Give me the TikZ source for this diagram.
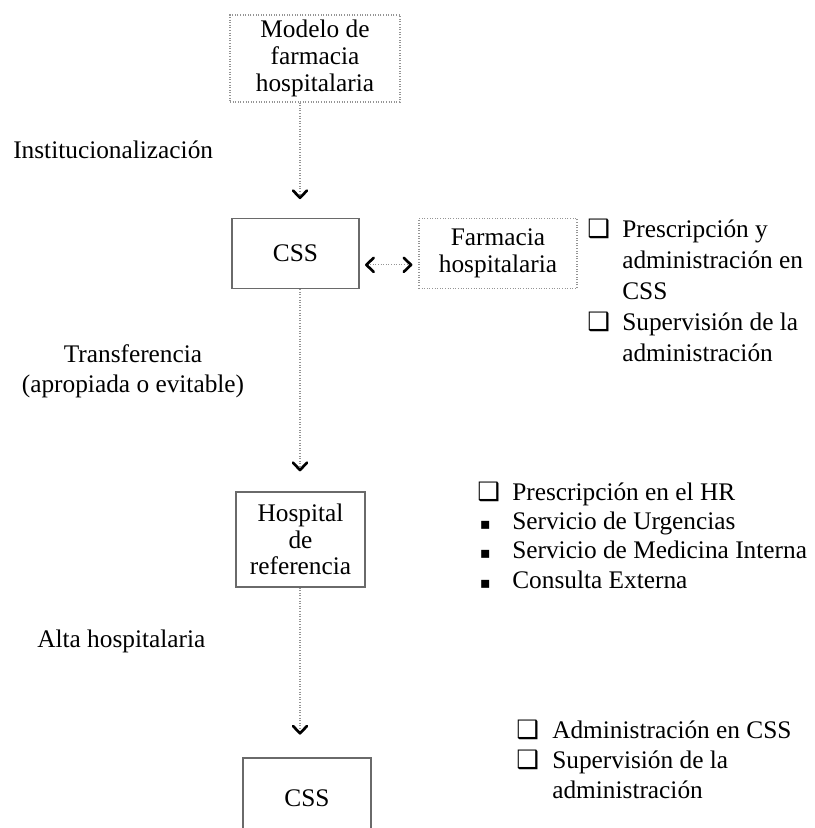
\documentclass[tikz,border=0pt]{standalone}
\usepackage{fontspec}
\setmainfont{Liberation Serif}
\newfontfamily\symfont{DejaVu Sans}
\usetikzlibrary{arrows.meta}

\definecolor{boxline}{HTML}{6A6A6A}
\definecolor{dotline}{HTML}{959595}

% list markers: shadowed check box and small filled square
\newcommand\chkmark[1]{\makebox[#1][l]{\symfont\fontsize{19}{19}\selectfont ❑}}
\newcommand\sqmark[1]{\makebox[#1][l]{\hspace{2pt}\symfont\fontsize{12}{12}\selectfont ▪}}

\begin{document}
\begin{tikzpicture}[x=0.75pt,y=-0.75pt,
  every node/.style={font=\fontsize{19}{20}\selectfont, inner sep=0pt},
  solidbox/.style={draw=boxline, line width=1pt, align=center},
  dotbox/.style={draw=dotline, line width=0.9pt, dash pattern=on 0.75pt off 1.2pt, align=center},
  barb/.tip={Straight Barb[length=5.5pt,width=10.5pt,line width=2pt,round,color=black]},
  flow/.style={draw=dotline, line width=0.9pt, dash pattern=on 0.75pt off 1.2pt, -barb},
  pair/.style={flow, barb-barb},
  label/.style={anchor=base west},
  itemlist/.style={anchor=base west}]

\useasboundingbox (0,0) rectangle (814,828);
\clip (0,0) rectangle (814,828);

% boxes
\node[dotbox, minimum width=127.5pt, minimum height=65.25pt] (top) at (315,58.5) {Modelo de\\farmacia\\hospitalaria};
\node[solidbox, minimum width=95.25pt, minimum height=52.5pt] (css1) at (295.5,253.5) {CSS};
\node[dotbox, minimum width=118.5pt, minimum height=52.5pt] (farm) at (498,253.5) {Farmacia\\hospitalaria};
\node[solidbox, minimum width=96.75pt, minimum height=71.25pt] (hosp) at (300.5,539.5) {Hospital\\de\\referencia};
\node[solidbox, minimum width=96pt, minimum height=60pt] (css2) at (307,798) {CSS};
\coordinate (spine) at (300,0);

% connectors
\draw[flow, shorten >=14pt] (spine |- top.south) -- (spine |- css1.north);
\draw[flow, shorten >=15pt] (spine |- css1.south) -- (spine |- hosp.north);
\draw[flow, shorten >=17pt] (spine |- hosp.south) -- (spine |- css2.north);
\draw[pair, shorten <=4pt, shorten >=4.5pt] ([yshift=-8.5pt]css1.east) -- ([yshift=-8.5pt]farm.west);

% step labels
\node[label] (inst) at (13,158) {Institucionalización};
\node[anchor=base] (trans) at (133,362) {Transferencia};
\node[anchor=base] (transb) at (133,392) {(apropiada o evitable)};
\node[label] (alta) at (37,647) {Alta hospitalaria};

% item lists
\node[itemlist] (list1) at (587,237) {\fontsize{19}{23.4}\selectfont
  \begin{tabular}[t]{@{}l@{}l@{}}
  \chkmark{26.25pt} & Prescripción y\\
   & administración en\\
   & CSS\\
  \chkmark{26.25pt} & Supervisión de la\\
   & administración
  \end{tabular}};
\node[itemlist] (list2) at (477,500) {\fontsize{19}{22}\selectfont
  \begin{tabular}[t]{@{}l@{}l@{}}
  \chkmark{26.25pt} & Prescripción en el HR\\
  \sqmark{26.25pt} & Servicio de Urgencias\\
  \sqmark{26.25pt} & Servicio de Medicina Interna\\
  \sqmark{26.25pt} & Consulta Externa
  \end{tabular}};
\node[itemlist] (list3) at (516,738) {\fontsize{19}{22.5}\selectfont
  \begin{tabular}[t]{@{}l@{}l@{}}
  \chkmark{27pt} & Administración en CSS\\
  \chkmark{27pt} & Supervisión de la\\
   & administración
  \end{tabular}};
\end{tikzpicture}
\end{document}
